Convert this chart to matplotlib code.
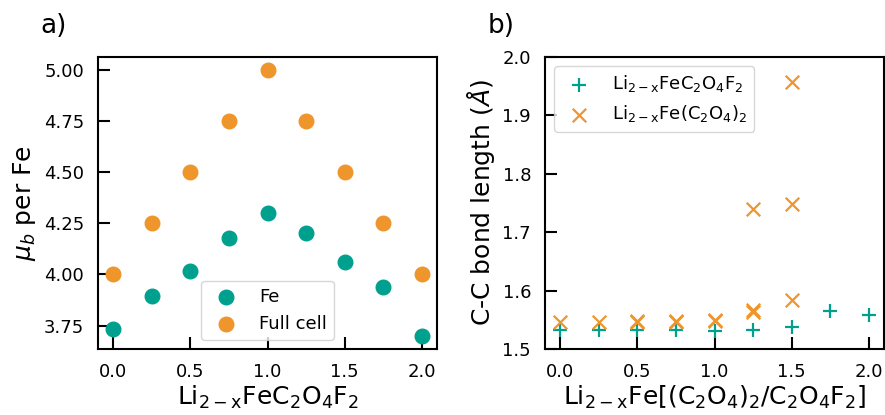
import matplotlib
matplotlib.use("Agg")
import matplotlib.pyplot as plt

# Panel a data
x_a = [0.0, 0.25, 0.5, 0.75, 1.0, 1.25, 1.5, 1.75, 2.0]
mu_fe = [3.735, 3.895, 4.015, 4.18, 4.30, 4.205, 4.06, 3.94, 3.70]
mu_cell = [4.0, 4.25, 4.5, 4.75, 5.0, 4.75, 4.5, 4.25, 4.0]

# Panel b data
x_f2 = [0.0, 0.25, 0.5, 0.75, 1.0, 1.25, 1.5, 1.75, 2.0]
cc_f2 = [1.533, 1.533, 1.533, 1.533, 1.531, 1.533, 1.538, 1.5645, 1.559]
x_ox = [0.0, 0.25, 0.5, 0.5, 0.75, 0.75, 1.0, 1.0, 1.25, 1.25, 1.25, 1.5, 1.5, 1.5]
cc_ox = [1.547, 1.546, 1.546, 1.548, 1.546, 1.548, 1.548, 1.550, 1.564, 1.566, 1.740, 1.5845, 1.749, 1.957]

xticks = [0.0, 0.5, 1.0, 1.5, 2.0]
yticks_a = [3.75, 4.00, 4.25, 4.50, 4.75, 5.00]
yticks_b = [1.5, 1.6, 1.7, 1.8, 1.9, 2.0]

teal = "#00a08f"
orange = "#ee962b"

plt.rcParams['font.family'] = ['DejaVu Sans']
plt.rcParams['mathtext.fontset'] = 'dejavusans'

fig = plt.figure(figsize=(8.85, 4.15), dpi=100)
ax1 = fig.add_axes([98/885, 1-349/415, 339/885, 292/415])
ax2 = fig.add_axes([545/885, 1-349/415, 339/885, 292/415])

ax1.scatter(x_a, mu_fe, s=110, color=teal, label='Fe', zorder=3)
ax1.scatter(x_a, mu_cell, s=110, color=orange, label='Full cell', zorder=3)
ax1.set_xticks(xticks)
ax1.set_yticks(yticks_a)
ax1.set_yticklabels([f"{v:.2f}" for v in yticks_a])
ax1.set_xlabel(r'Li$_{2-\mathrm{x}}$FeC$_2$O$_4$F$_2$', fontsize=18, labelpad=2)
ax1.set_ylabel(r'$\mu_b$ per Fe', fontsize=18, labelpad=4)
ax1.legend(loc='lower center', fontsize=13)
ax1.text(-0.17, 1.105, 'a)', transform=ax1.transAxes, fontsize=19, va='center')

ax2.scatter(x_f2, cc_f2, s=95, marker='+', color=teal, linewidths=1.6,
            label=r'Li$_{2-\mathrm{x}}$FeC$_2$O$_4$F$_2$', zorder=3)
ax2.scatter(x_ox, cc_ox, s=95, marker='x', color=orange, linewidths=1.6,
            label=r'Li$_{2-\mathrm{x}}$Fe(C$_2$O$_4$)$_2$', zorder=3)
ax2.set_ylim(1.5, 2.0)
ax2.set_xlim(-0.1, 2.1)
ax2.set_xticks(xticks)
ax2.set_yticks(yticks_b)
ax2.set_xlabel(r'Li$_{2-\mathrm{x}}$Fe[(C$_2$O$_4$)$_2$/C$_2$O$_4$F$_2$]', fontsize=18, labelpad=2)
ax2.set_ylabel(r'C-C bond length ($\AA$)', fontsize=18, labelpad=4)
ax2.legend(loc='upper left', fontsize=13)
ax2.text(-0.17, 1.105, 'b)', transform=ax2.transAxes, fontsize=19, va='center')

for ax in (ax1, ax2):
    ax.tick_params(direction='in', length=8.5, width=1.5, labelsize=13, pad=10)
    for sp in ax.spines.values():
        sp.set_linewidth(1.5)

fig.savefig('out.png', dpi=100)
